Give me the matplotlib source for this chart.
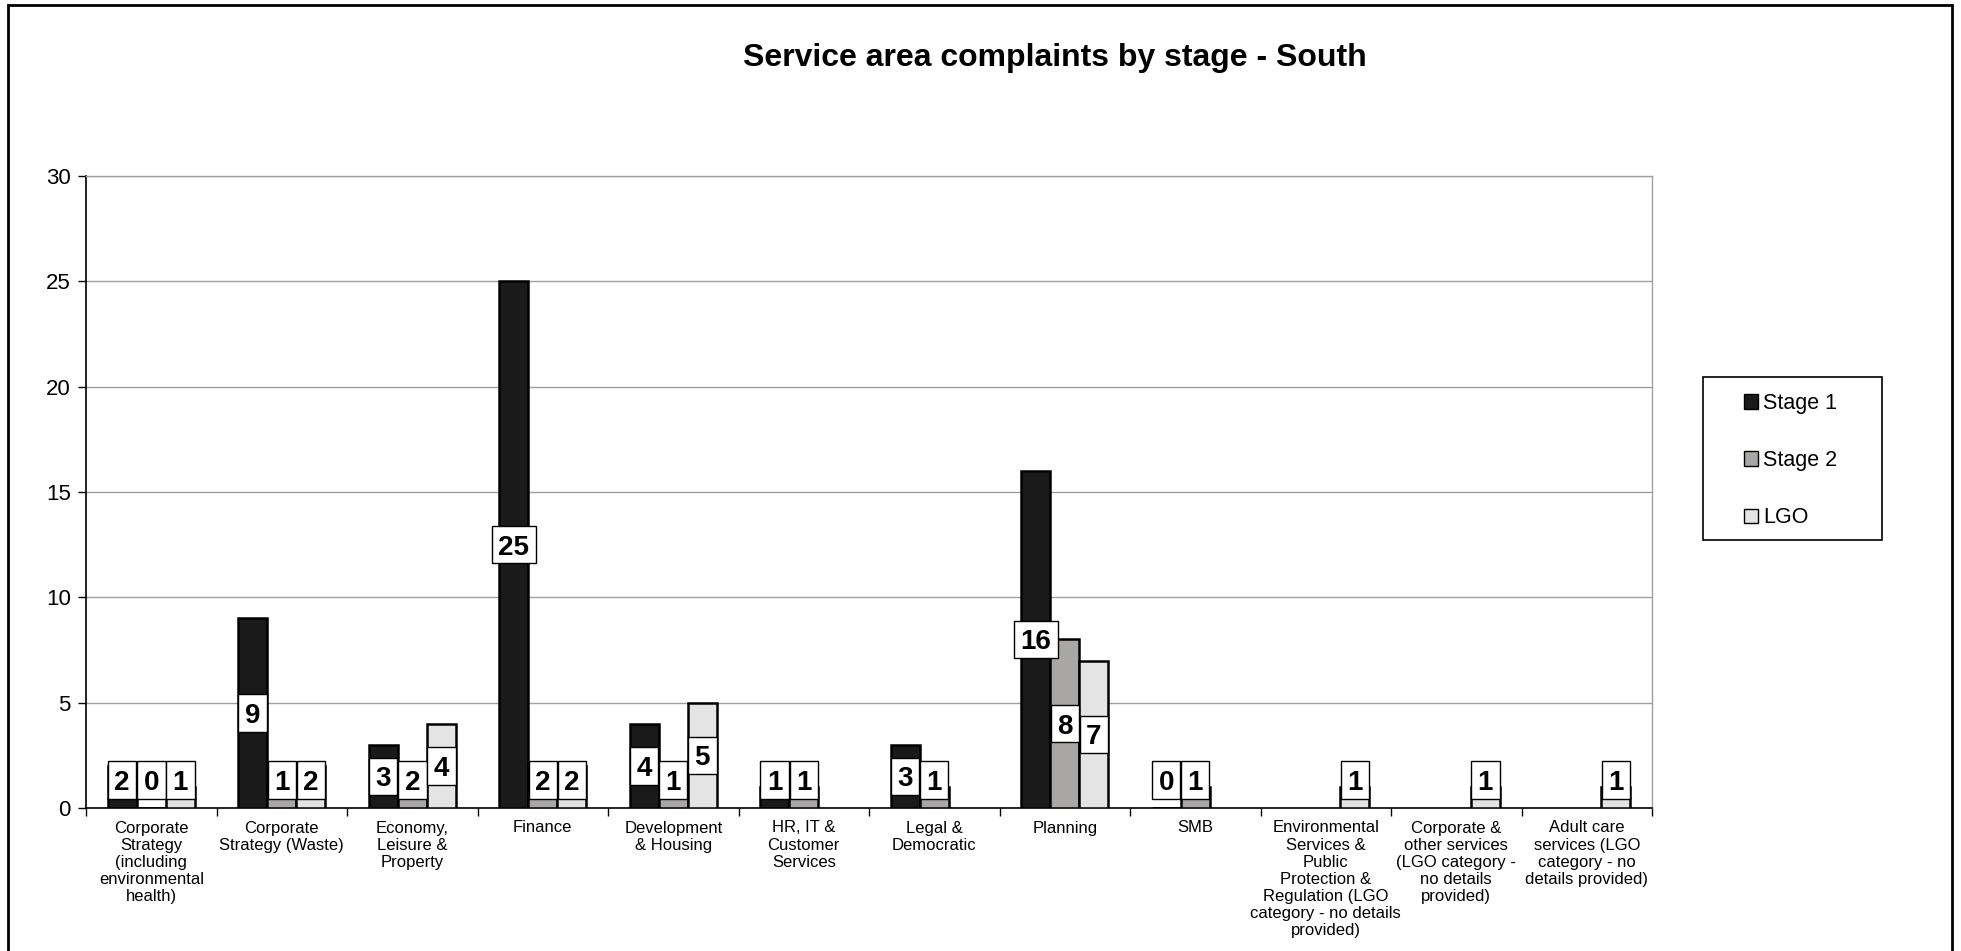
import numpy as np
import matplotlib.pyplot as plt
from matplotlib.patches import Patch, Rectangle

plt.rcParams['font.family'] = ['Liberation Sans', 'DejaVu Sans']

# complaints per service area, by stage (nan = no entry for that stage)
categories = [
    "Corporate\nStrategy\n(including\nenvironmental\nhealth)",
    "Corporate\nStrategy (Waste)",
    "Economy,\nLeisure &\nProperty",
    "Finance",
    "Development\n& Housing",
    "HR, IT &\nCustomer\nServices",
    "Legal &\nDemocratic",
    "Planning",
    "SMB",
    "Environmental\nServices &\nPublic\nProtection &\nRegulation (LGO\ncategory - no details\nprovided)",
    "Corporate &\nother services\n(LGO category -\nno details\nprovided)",
    "Adult care\nservices (LGO\ncategory - no\ndetails provided)",
]
nan = np.nan
stage1 = [2, 9, 3, 25, 4, 1, 3, 16, 0, nan, nan, nan]
stage2 = [0, 1, 2, 2, 1, 1, 1, 8, 1, nan, nan, nan]
lgo = [1, 2, 4, 2, 5, nan, nan, 7, nan, 1, 1, 1]

series_names = ["Stage 1", "Stage 2", "LGO"]
series_colors = ["#1a1a1a", "#a9a6a6", "#e4e4e4"]

W, H = 1961, 951
fig = plt.figure(figsize=(W / 100, H / 100), dpi=100)
ax = fig.add_axes([86 / W, 1 - 808 / H, (1652 - 86) / W, (808 - 176) / H])

x = np.arange(len(categories))
bar_w = 0.223
series = [stage1, stage2, lgo]
for i, (vals, name, color) in enumerate(zip(series, series_names, series_colors)):
    vals = np.array(vals, dtype=float)
    keep = ~np.isnan(vals)
    ax.bar(x[keep] + (i - 1) * bar_w, vals[keep], width=bar_w, color=color,
           edgecolor='black', linewidth=1.8, zorder=3)

ax.set_xlim(-0.5, len(categories) - 0.5)
ax.set_ylim(0, 30)
ax.set_yticks(range(0, 31, 5))
ax.tick_params(axis='y', length=6, width=1, labelsize=16, pad=5)
ax.set_xticks(x)
ax.set_xticklabels(categories, fontsize=12, linespacing=1.17, multialignment='center')
ax.tick_params(axis='x', which='major', length=0, pad=9)
ax.set_xticks(np.arange(-0.5, len(categories), 1), minor=True)
ax.tick_params(axis='x', which='minor', length=6, width=1)
ax.yaxis.grid(True, color='#a0a0a0', linewidth=1)
ax.set_axisbelow(True)
for side in ['top', 'right']:
    ax.spines[side].set_color('#a0a0a0')
    ax.spines[side].set_linewidth(1)
for side in ['left', 'bottom']:
    ax.spines[side].set_color('black')
    ax.spines[side].set_linewidth(1.2)

# value labels in white boxes, centred on the bar but kept off the axis line
fig.canvas.draw()
renderer = fig.canvas.get_renderer()
to_px = ax.transData.transform
px_per_unit = to_px((0, 1))[1] - to_px((0, 0))[1]
px_per_cat = to_px((1, 0))[0] - to_px((0, 0))[0]
label_size = 20
cap_px = 0.716 * label_size * 100 / 72
box_h = 37.5 / px_per_unit
label_floor = 0.43
for i, vals in enumerate(series):
    for xi, v in zip(x, vals):
        if np.isnan(v):
            continue
        xc = xi + (i - 1) * bar_w
        yc = max(v / 2, label_floor + box_h / 2)
        t = ax.text(xc, yc - cap_px / 2 / px_per_unit, f"{int(v)}", ha='center', va='baseline',
                    fontsize=label_size, fontweight='bold', zorder=6)
        tw = t.get_window_extent(renderer).width
        bw = (tw + 13) / px_per_cat
        ax.add_patch(Rectangle((xc - bw / 2, yc - box_h / 2), bw, box_h, facecolor='white',
                               edgecolor='black', linewidth=1, zorder=5))

fig.text(1055 / W, 1 - 58 / H, "Service area complaints by stage - South", ha='center',
         va='center', fontsize=23, fontweight='bold')

handles = [Patch(facecolor=c, edgecolor='black', linewidth=1) for c in series_colors]
fig.legend(handles, series_names, loc='upper left', bbox_to_anchor=(1744 / W, 1 - 393 / H),
           frameon=False, fontsize=15.5, handlelength=0.65, handleheight=0.65,
           handletextpad=0.25, labelspacing=1.68, borderpad=0, borderaxespad=0)
fig.add_artist(Rectangle((1703 / W, 1 - 540 / H), (1882 - 1703) / W, (540 - 377) / H,
                         transform=fig.transFigure, fill=False, edgecolor='black', linewidth=1.2))

# outer chart border
fig.add_artist(Rectangle((8 / W, -0.05), (1952 - 8) / W, 1.05 - 5 / H, transform=fig.transFigure,
                         fill=False, edgecolor='black', linewidth=2))

fig.savefig('out.png', dpi=100)
